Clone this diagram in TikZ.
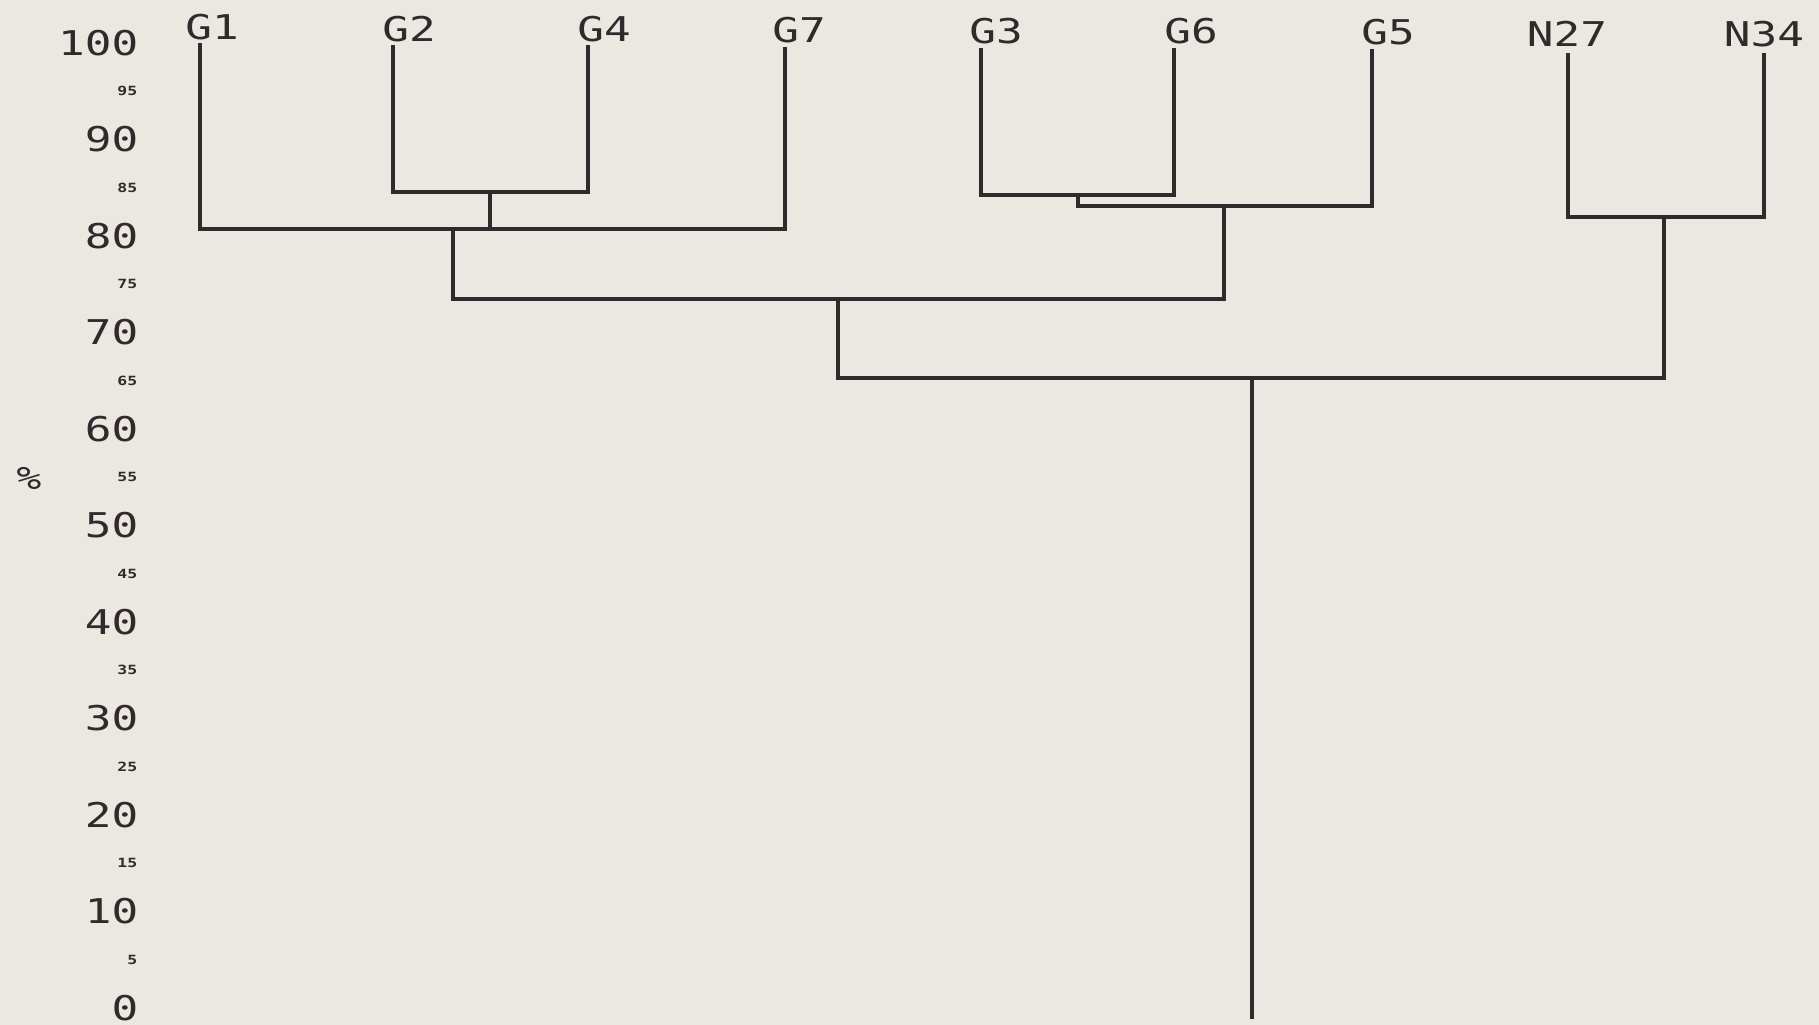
\documentclass[tikz,border=0pt]{standalone}
\usepackage{fontspec}
\newfontfamily\plotfont[FakeStretch=1.3]{DejaVu Sans Mono}
\definecolor{paper}{RGB}{234,232,224}
\definecolor{ink}{RGB}{48,42,44}
\begin{document}
\begin{tikzpicture}[x=0.01cm,y=-0.01cm,
  link/.style={draw=ink,line width=1pt,line cap=rect,line join=miter},
  leaf/.style={inner sep=0pt,text=ink,font=\plotfont\fontsize{9.7}{10}\selectfont},
  ylab/.style={inner sep=0pt,anchor=east,text=ink,font=\plotfont\fontsize{9.7}{10}\selectfont},
  ytiny/.style={inner sep=0pt,anchor=east,text=ink,font=\plotfont\bfseries\fontsize{3.6}{4}\selectfont}]
\fill[paper] (0,0) rectangle (1819,1025);
\useasboundingbox (0,0) rectangle (1819,1025);
% axis labels
\foreach \v [count=\i from 0] in {100,90,80,70,60,50,40,30,20,10,0}
  \node[ylab] (y\v) at (139,{43+\i*96.5}) {\v};
\foreach \v [count=\i from 0] in {95,85,75,65,55,45,35,25,15,5}
  \node[ytiny] (t\v) at (138,{91+\i*96.5}) {\v};
\node[inner sep=0pt,text=ink,font=\plotfont\fontsize{9}{10}\selectfont] (pct) at (29,478) {\%};
% leaf labels
\node[leaf] (G1) at (212,27) {G1};
\node[leaf] (G2) at (409,29) {G2};
\node[leaf] (G4) at (604,29) {G4};
\node[leaf] (G7) at (799,30) {G7};
\node[leaf] (G3) at (996,31) {G3};
\node[leaf] (G6) at (1191,31) {G6};
\node[leaf] (G5) at (1388,32) {G5};
\node[leaf] (N27) at (1567,34) {N27};
\node[leaf] (N34) at (1764,34) {N34};
% leaf line tops
\coordinate (G1t) at (200,45);
\coordinate (G2t) at (393,47);
\coordinate (G4t) at (588,47);
\coordinate (G7t) at (785,49);
\coordinate (G3t) at (981,50);
\coordinate (G6t) at (1174,50);
\coordinate (G5t) at (1372,51);
\coordinate (N27t) at (1568,55);
\coordinate (N34t) at (1764,55);
% merge points
\coordinate (a) at (490,192);
\coordinate (b) at (453,229);
\coordinate (c) at (1078,195);
\coordinate (d) at (1224,206);
\coordinate (e) at (838,299);
\coordinate (f) at (1664,217);
\coordinate (g) at (1252,378);
\coordinate (root) at (1252,1017);
% dendrogram
\draw[link] (G2t) |- (a) -| (G4t);
\draw[link] (a) -- (a |- b);
\draw[link] (G1t) |- (b) -| (G7t);
\draw[link] (G3t) |- (c) -| (G6t);
\draw[link] (c) |- (d) -| (G5t);
\draw[link] (b) |- (e) -| (d);
\draw[link] (N27t) |- (f) -| (N34t);
\draw[link] (e) |- (g) -| (f);
\draw[link] (g) -- (root);
\end{tikzpicture}
\end{document}
